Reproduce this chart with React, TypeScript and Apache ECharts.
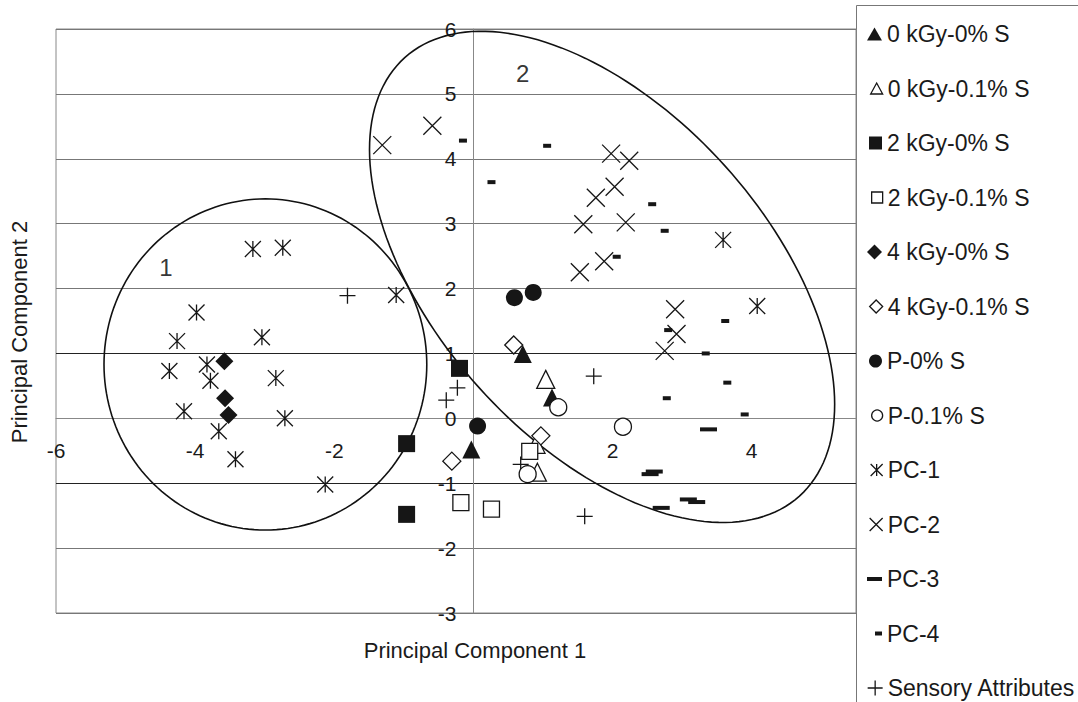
import React, { useEffect, useRef } from 'react';
import * as echarts from 'echarts';

const FONT = '"Liberation Sans", Arial, Helvetica, sans-serif';
const INK = '#161616';

// ---------- data (Principal Component 1, Principal Component 2) ----------
const kGy0_0S = [[0.71, 0.99], [1.13, 0.32], [-0.03, -0.48]];
const kGy0_01S = [[1.04, 0.6], [0.9, -0.4], [0.92, -0.83]];
const kGy2_0S = [[-0.2, 0.77], [-0.96, -0.39], [-0.96, -1.48]];
const kGy2_01S = [[-0.18, -1.3], [0.26, -1.4], [0.81, -0.51]];
const kGy4_0S = [[-3.58, 0.88], [-3.57, 0.31], [-3.52, 0.05]];
const kGy4_01S = [[0.58, 1.13], [-0.31, -0.66], [0.97, -0.27]];
const p_0S = [[0.59, 1.86], [0.86, 1.94], [0.06, -0.12]];
const p_01S = [[1.22, 0.17], [0.78, -0.86], [2.15, -0.13]];
const pc1 = [
  [-3.17, 2.61], [-2.74, 2.63], [-1.11, 1.9], [-3.98, 1.63], [-4.26, 1.19], [-3.04, 1.25],
  [-3.83, 0.83], [-4.37, 0.73], [-3.78, 0.58], [-2.84, 0.62], [-4.16, 0.11], [-2.71, 0.0],
  [-3.66, -0.2], [-3.42, -0.63], [-2.13, -1.02], [3.59, 2.75], [4.08, 1.73],
];
const pc2 = [
  [-1.31, 4.21], [-0.59, 4.51], [1.98, 4.08], [2.24, 3.97], [2.03, 3.57], [1.76, 3.4],
  [1.58, 2.99], [2.19, 3.02], [1.88, 2.42], [1.53, 2.25], [2.9, 1.68], [2.92, 1.3], [2.75, 1.04],
];
const pc3 = [[3.38, -0.17], [2.54, -0.86], [2.6, -0.82], [2.7, -1.38], [3.09, -1.25], [3.21, -1.29]];
const pc4 = [
  [-0.15, 4.28], [0.26, 3.64], [1.06, 4.2], [2.57, 3.3], [2.75, 2.89], [2.06, 2.49],
  [3.62, 1.5], [2.8, 1.36], [3.34, 1.0], [3.65, 0.55], [2.78, 0.31], [3.9, 0.06],
];
const sensory = [[-1.81, 1.89], [-0.23, 0.47], [-0.39, 0.28], [1.73, 0.65], [0.68, -0.71], [1.6, -1.51]];

// group outlines: centre (data), semi-axes (in x-axis units), rotation (deg, clockwise on screen)
const groupNames = ['1', '2'];
const groupCentres = [[-2.99, 0.83], [1.85, 2.18]];
const groupSemiAxes = [[2.32, 2.38], [4.24, 2.38]];
const groupRotation = [0, 48];
const groupLabelPos = [[-4.42, 2.33], [0.71, 5.31]];

// axis ticks
const xMin = -6, xMax = 5.5, xStep = 2;
const yMin = -3, yMax = 6, yStep = 1;

const ASTERISK = 'path://M0,0L10,10M10,0L0,10M5,0L5,10';
const CROSS = 'path://M0,0L10,10M10,0L0,10';
const PLUS = 'path://M5,0L5,10M0,5L10,5';

type Def = {
  name: string; data: number[][]; symbol: string; size: number | number[];
  fill: string; stroke: string; bw: number; legW: number; legH: number;
};

const filled = (name, data, symbol, size, legW, legH): Def =>
  ({ name, data, symbol, size, fill: INK, stroke: INK, bw: 0, legW, legH });
const open = (name, data, symbol, size, legW, legH): Def =>
  ({ name, data, symbol, size, fill: '#ffffff', stroke: INK, bw: 1.3, legW, legH });
const lines = (name, data, symbol, size, legW, legH): Def =>
  ({ name, data, symbol, size, fill: 'rgba(0,0,0,0)', stroke: INK, bw: 1.3, legW, legH });

const defs: Def[] = [
  filled('0 kGy-0% S', kGy0_0S, 'triangle', 18, 15, 13),
  open('0 kGy-0.1% S', kGy0_01S, 'triangle', 18, 12, 11),
  filled('2 kGy-0% S', kGy2_0S, 'rect', 17, 13, 13),
  open('2 kGy-0.1% S', kGy2_01S, 'rect', 16, 11, 11),
  filled('4 kGy-0% S', kGy4_0S, 'diamond', 18, 15, 15),
  open('4 kGy-0.1% S', kGy4_01S, 'diamond', 18, 13, 13),
  filled('P-0% S', p_0S, 'circle', 17, 13, 13),
  open('P-0.1% S', p_01S, 'circle', 17, 11, 11),
  lines('PC-1', pc1, ASTERISK, 16, 12, 12),
  lines('PC-2', pc2, CROSS, 18, 13, 13),
  filled('PC-3', pc3, 'rect', [17, 4], 15, 4),
  filled('PC-4', pc4, 'rect', [8, 4], 7, 4),
  lines('Sensory Attributes', sensory, PLUS, 16, 15, 15),
];

const GRID = { left: 56, top: 29, width: 800, height: 584 };

export default function App() {
  const ref = useRef<HTMLDivElement>(null);

  useEffect(() => {
    if (!ref.current) return;
    const chart = echarts.init(ref.current, null, { renderer: 'svg' });

    // where the zero lines fall inside the grid (axes cross at the origin)
    const xZeroPx = GRID.left + ((0 - xMin) / (xMax - xMin)) * GRID.width;
    const yZeroPx = GRID.top + ((yMax - 0) / (yMax - yMin)) * GRID.height;
    const xAxisOffset = -(GRID.top + GRID.height - yZeroPx);
    const yAxisOffset = -(xZeroPx - GRID.left);

    const ellipseSeries = groupCentres.map((c, gi) => ({
      type: 'custom',
      name: 'group ' + groupNames[gi],
      silent: true,
      z: 1,
      clip: false,
      data: [c],
      renderItem: (params, api) => {
        const ctr = api.coord([api.value(0), api.value(1)]);
        const unit = api.size([1, 1]);
        const px = unit[0];
        const a = groupSemiAxes[gi][0] * px;
        const b = groupSemiAxes[gi][1] * px;
        const th = (groupRotation[gi] * Math.PI) / 180;
        const pts: number[][] = [];
        const n = 180;
        for (let i = 0; i < n; i++) {
          const t = (i / n) * Math.PI * 2;
          const ex = a * Math.cos(t);
          const ey = b * Math.sin(t);
          pts.push([ctr[0] + ex * Math.cos(th) - ey * Math.sin(th), ctr[1] + ex * Math.sin(th) + ey * Math.cos(th)]);
        }
        return {
          type: 'polygon',
          shape: { points: pts },
          style: { fill: 'none', stroke: '#111', lineWidth: 1.6 },
        };
      },
    }));

    const order = [8, 9, 10, 11, 12, 0, 1, 2, 3, 4, 5, 6, 7];
    const scatterSeries = order.map((i) => {
      const d = defs[i];
      return {
        type: 'scatter',
        name: d.name,
        data: d.data,
        symbol: d.symbol,
        symbolSize: d.size,
        z: 3,
        itemStyle: { color: d.fill, borderColor: d.stroke, borderWidth: d.bw, opacity: 1 },
        emphasis: { disabled: true },
      };
    });

    const labelSeries = {
      type: 'scatter',
      name: 'group labels',
      silent: true,
      symbol: 'circle',
      symbolSize: 1,
      z: 4,
      itemStyle: { color: 'rgba(0,0,0,0)' },
      data: groupLabelPos.map((p, i) => ({ value: p, name: groupNames[i] })),
      label: {
        show: true,
        position: 'inside',
        formatter: '{b}',
        fontSize: 24,
        fontFamily: FONT,
        color: '#000',
        textBorderWidth: 0,
      },
    };

    const legendCenter0 = 34;
    const legendStep = 54.5;
    const legends = defs.map((d, i) => ({
      show: true,
      data: [d.name],
      orient: 'vertical',
      left: 882 - d.legW,
      top: legendCenter0 + i * legendStep - 11.5,
      padding: 0,
      itemWidth: d.legW,
      itemHeight: d.legH,
      selectedMode: false,
      itemStyle: { color: d.fill, borderColor: d.stroke, borderWidth: d.bw },
      textStyle: { fontSize: 23, fontFamily: FONT, color: '#1a1a1a', lineHeight: 23 },
    }));

    const gridColors: string[] = [];
    for (let v = yMin; v <= yMax; v += yStep) gridColors.push(v === 1 || v === -1 ? '#222' : '#777');

    chart.setOption({
      animation: false,
      backgroundColor: '#ffffff',
      textStyle: { fontFamily: FONT },
      grid: { ...GRID, show: true, borderColor: '#888', borderWidth: 1, containLabel: false },
      xAxis: {
        type: 'value',
        min: xMin,
        max: xMax,
        interval: xStep,
        position: 'bottom',
        offset: xAxisOffset,
        axisLine: { show: true, onZero: false, lineStyle: { color: '#888', width: 1 } },
        axisTick: { show: false },
        splitLine: { show: false },
        axisLabel: {
          fontSize: 21,
          fontFamily: FONT,
          color: '#1a1a1a',
          margin: 22,
          showMaxLabel: false,
          formatter: (v: number) => (v === 0 || v > 5 ? '' : String(v)),
        },
      },
      yAxis: {
        type: 'value',
        min: yMin,
        max: yMax,
        interval: yStep,
        position: 'left',
        offset: yAxisOffset,
        axisLine: { show: true, onZero: false, lineStyle: { color: '#888', width: 1 } },
        axisTick: { show: false },
        splitLine: { show: true, lineStyle: { color: gridColors, width: 1 } },
        axisLabel: { fontSize: 21, fontFamily: FONT, color: '#1a1a1a', margin: 17 },
      },
      legend: legends,
      graphic: [
        {
          type: 'rect',
          shape: { x: 856.5, y: 5.5, width: 400, height: 900 },
          style: { fill: 'none', stroke: '#777', lineWidth: 1 },
          silent: true,
          z: -1,
        },
        {
          type: 'text',
          x: 475,
          y: 650,
          style: { text: 'Principal Component 1', font: '22px ' + FONT, fill: '#1a1a1a', align: 'center', verticalAlign: 'middle' },
        },
        {
          type: 'text',
          x: 19,
          y: 332,
          rotation: Math.PI / 2,
          style: { text: 'Principal Component 2', font: '22px ' + FONT, fill: '#1a1a1a', align: 'center', verticalAlign: 'middle' },
        },
      ],
      series: [...ellipseSeries, ...scatterSeries, labelSeries],
    });

    return () => chart.dispose();
  }, []);

  return (
    <div
      ref={ref}
      style={{ position: 'absolute', left: 0, top: 0, width: 1078, height: 702, background: '#fff' }}
    />
  );
}
